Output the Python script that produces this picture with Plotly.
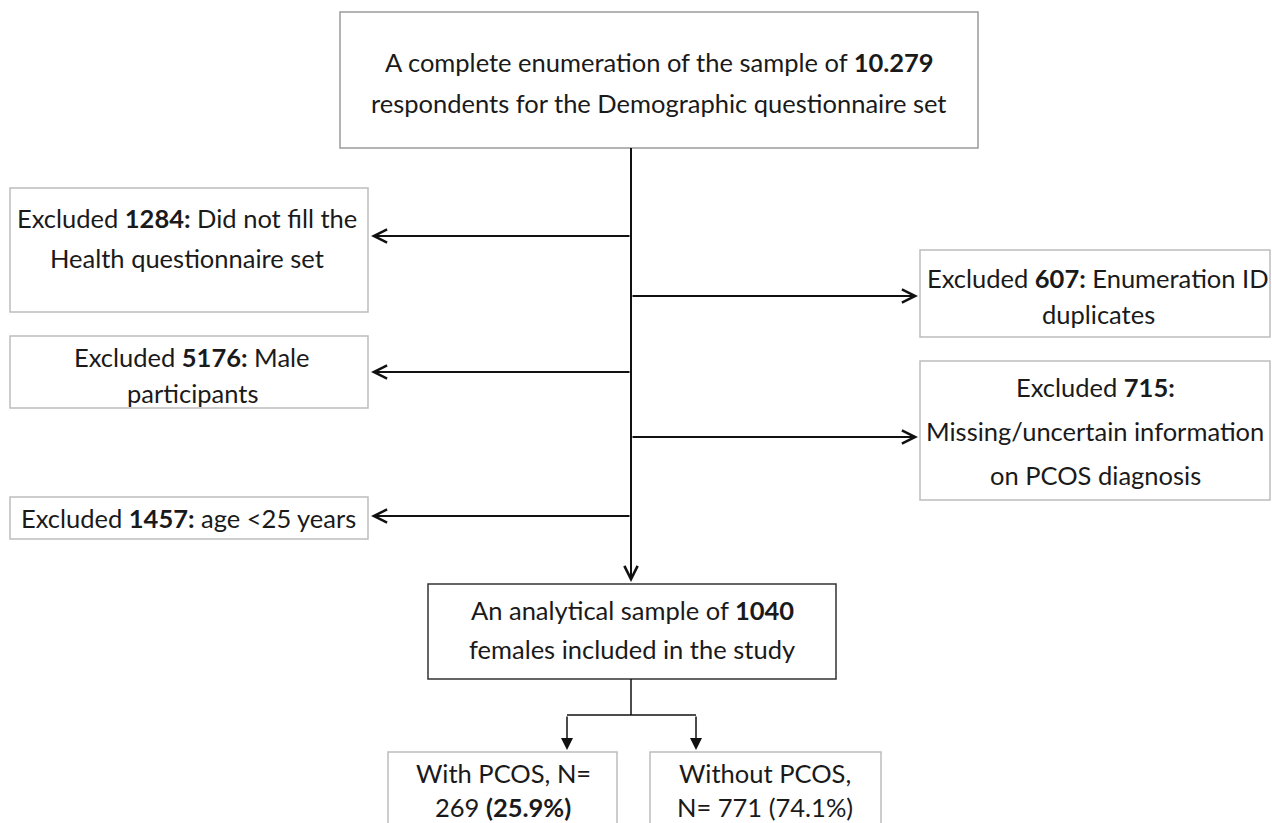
import plotly.graph_objects as go

W, H = 1272, 823
FONT = "Lato"
FS = 25.5
TXT = "#1a1a1a"

# Box texts (one list per box; each entry is a line)
top_lines = ["A complete enumeration of the sample of <b>10.279</b>",
             "respondents for the Demographic questionnaire set"]
l1_lines = ["Excluded <b>1284:</b> Did not fill the", "Health questionnaire set"]
l2_lines = ["Excluded <b>5176:</b> Male", "participants"]
l3_lines = ["Excluded <b>1457:</b> age <25 years"]
r1_lines = ["Excluded <b>607:</b> Enumeration ID", "duplicates"]
r2_lines = ["Excluded <b>715:</b>", "Missing/uncertain information", "on PCOS diagnosis"]
mid_lines = ["An analytical sample of <b>1040</b>", "females included in the study"]
bl_lines = ["With PCOS, N=", "269 <b>(25.9%)</b>"]
br_lines = ["Without PCOS,", "N= 771 (74.1%)"]

# Layout geometry (pixel coordinates, y downward)
boxes = [
    # x0, x1, y0, y1, lines, text cx, first line y, line step, border color
    (340, 978, 12, 148, top_lines, 659, 62, 41, "#9a9a9a"),
    (10, 368, 188, 312, l1_lines, 187, 218, 40, "#bdbdbd"),
    (10, 368, 336, 408, l2_lines, 192, 357, 36, "#bdbdbd"),
    (10, 368, 497, 539, l3_lines, 188, 518, 36, "#bdbdbd"),
    (920, 1270, 250, 337, r1_lines, 1098, 278, 36, "#bdbdbd"),
    (920, 1270, 361, 500, r2_lines, 1095, 387, 44, "#bdbdbd"),
    (428, 836, 584, 679, mid_lines, 632, 610, 39, "#333333"),
    (388, 617, 752, 840, bl_lines, 503, 773, 34, "#bdbdbd"),
    (650, 881, 752, 840, br_lines, 765, 773, 34, "#bdbdbd"),
]

fig = go.Figure()
shapes = []
annotations = []

for x0, x1, y0, y1, lines, cx, ly, step, col in boxes:
    shapes.append(dict(type="rect", x0=x0, x1=x1, y0=y0, y1=y1,
                       line=dict(color=col, width=1.5), fillcolor="white", layer="below"))
    for i, t in enumerate(lines):
        annotations.append(dict(x=cx, y=ly + i * step, text=t, showarrow=False,
                                xanchor="center", yanchor="middle",
                                font=dict(family=FONT, size=FS, color=TXT)))

LC = "#111111"
LW = 2
# main trunk
shapes.append(dict(type="line", x0=631, x1=631, y0=148, y1=560, line=dict(color=LC, width=LW)))
# lower branch
shapes.append(dict(type="line", x0=631, x1=631, y0=679, y1=715, line=dict(color=LC, width=1.5)))
shapes.append(dict(type="line", x0=567, x1=696, y0=715, y1=715, line=dict(color=LC, width=1.5)))

def arrow(x0, y0, x1, y1, w=LW, size=1.3, head=5):
    annotations.append(dict(x=x1, y=y1, ax=x0, ay=y0, xref="x", yref="y",
                            axref="x", ayref="y", showarrow=True, text="",
                            arrowhead=head, arrowsize=size, arrowwidth=w,
                            arrowcolor=LC, standoff=0))

arrow(631, 236, 371, 236)
arrow(631, 296, 918, 296)
arrow(631, 372, 371, 372)
arrow(631, 437, 918, 437)
arrow(631, 516, 371, 516)
arrow(631, 540, 631, 582)
arrow(567, 715, 567, 750, w=1.5, size=1.6, head=2)
arrow(696, 715, 696, 750, w=1.5, size=1.6, head=2)

fig.update_layout(
    width=W, height=H, margin=dict(l=0, r=0, t=0, b=0),
    paper_bgcolor="white", plot_bgcolor="white",
    xaxis=dict(range=[0, W], visible=False, fixedrange=True),
    yaxis=dict(range=[H, 0], visible=False, fixedrange=True),
    shapes=shapes, annotations=annotations, showlegend=False,
)

fig.write_html("out.html", config={"displayModeBar": False},
               post_script="document.body.style.margin='0';document.body.style.overflow='hidden';")
